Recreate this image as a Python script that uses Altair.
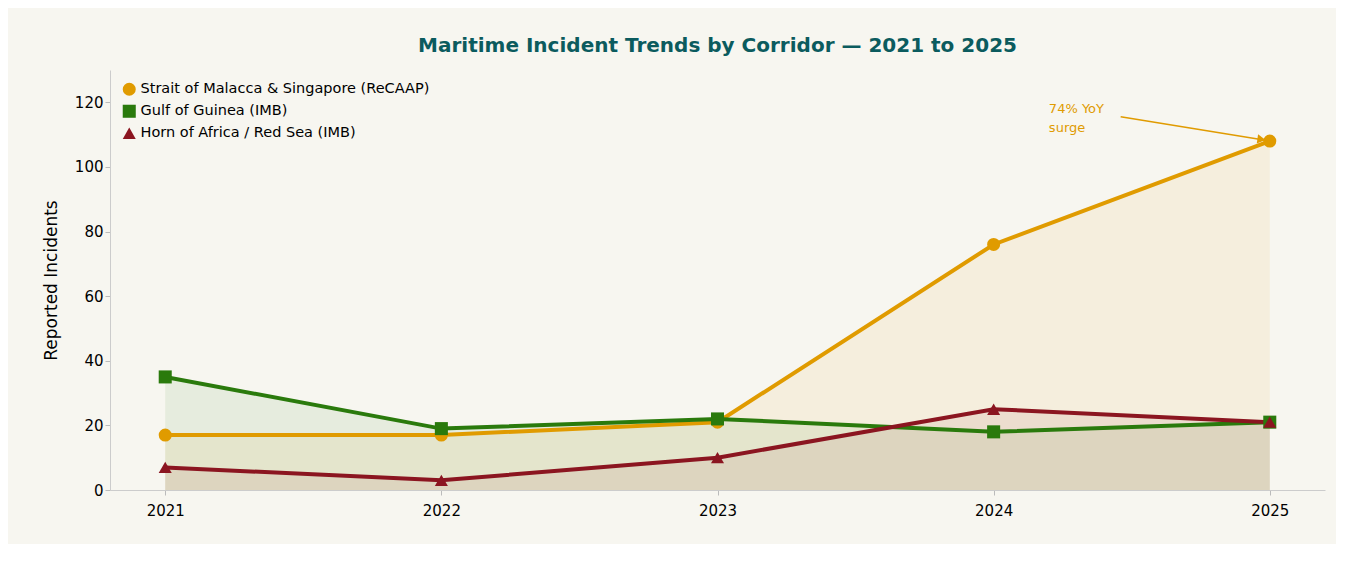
import altair as alt
import pandas as pd

years = [2021, 2022, 2023, 2024, 2025]
malacca = [17, 17, 21, 76, 108]
guinea = [35, 19, 22, 18, 21]
horn = [7, 3, 10, 25, 21]

series = [
    "Strait of Malacca & Singapore (ReCAAP)",
    "Gulf of Guinea (IMB)",
    "Horn of Africa / Red Sea (IMB)",
]
colors = ["#e09b00", "#2a7a0c", "#8b1520"]
shapes = ["circle", "square", "triangle-up"]

rows = []
for name, vals in zip(series, [malacca, guinea, horn]):
    for y, v in zip(years, vals):
        rows.append({"year": y, "value": v, "series": name})
df = pd.DataFrame(rows)

x = alt.X("year:Q", scale=alt.Scale(domain=[2020.8, 2025.2], nice=False),
          axis=alt.Axis(values=years, format="d", title=None, grid=False,
                        labelFontSize=15, labelPadding=8, tickColor="#bbb",
                        domainColor="#ccc"))
y = alt.Y("value:Q", stack=None, scale=alt.Scale(domain=[0, 130], nice=False),
          axis=alt.Axis(values=[0, 20, 40, 60, 80, 100, 120], title="Reported Incidents",
                        grid=False, labelFontSize=15, titleFontSize=17,
                        titleFontWeight="normal", titlePadding=14,
                        tickColor="#bbb", domainColor="#ccc"))
legend = alt.Legend(title=None, orient="top-left", labelFontSize=14.5,
                    symbolSize=170, symbolStrokeWidth=0, symbolOpacity=1,
                    offset=12, rowPadding=7, labelLimit=400)
color = alt.Color("series:N", scale=alt.Scale(domain=series, range=colors), legend=legend)
shape = alt.Shape("series:N", scale=alt.Scale(domain=series, range=shapes), legend=legend)

base = alt.Chart(df)
area = base.mark_area(opacity=0.08).encode(x=x, y=y, color=color)
line = base.mark_line(strokeWidth=4).encode(x=x, y=y, color=color)
pts = base.mark_point(filled=True, size=170, opacity=1).encode(x=x, y=y, color=color, shape=shape)

note = pd.DataFrame({"year": [2024.2], "value": [118], "t": [["74% YoY", "surge"]]})
text = alt.Chart(note).mark_text(align="left", baseline="middle", color="#e09b00",
                                 fontSize=13, lineHeight=19).encode(x="year:Q", y="value:Q", text="t")
arrow_df = pd.DataFrame({"year": [2024.46], "value": [115.5], "year2": [2024.99], "value2": [108.2]})
arrow = alt.Chart(arrow_df).mark_rule(color="#e09b00", strokeWidth=1.5).encode(
    x="year:Q", y="value:Q", x2="year2:Q", y2="value2:Q")
head = alt.Chart(pd.DataFrame({"year": [2024.97], "value": [108.5]})).mark_point(
    shape="triangle-right", filled=True, size=90, color="#e09b00", angle=8, opacity=1
).encode(x="year:Q", y="value:Q")

chart = alt.layer(area, line, pts, text, arrow, head).properties(
    width=1328, height=536,
    autosize=alt.AutoSizeParams(type="fit", contains="padding"),
    padding={"left": 34, "right": 11, "top": 28, "bottom": 26},
    background="#f7f6f0",
    title=alt.Title("Maritime Incident Trends by Corridor — 2021 to 2025",
                    fontSize=20, color="#0b5b5e", fontWeight="bold", offset=14),
).configure(font="DejaVu Sans").configure_view(stroke=None)

chart.save("out.html", embed_options={"renderer": "svg", "actions": False})
